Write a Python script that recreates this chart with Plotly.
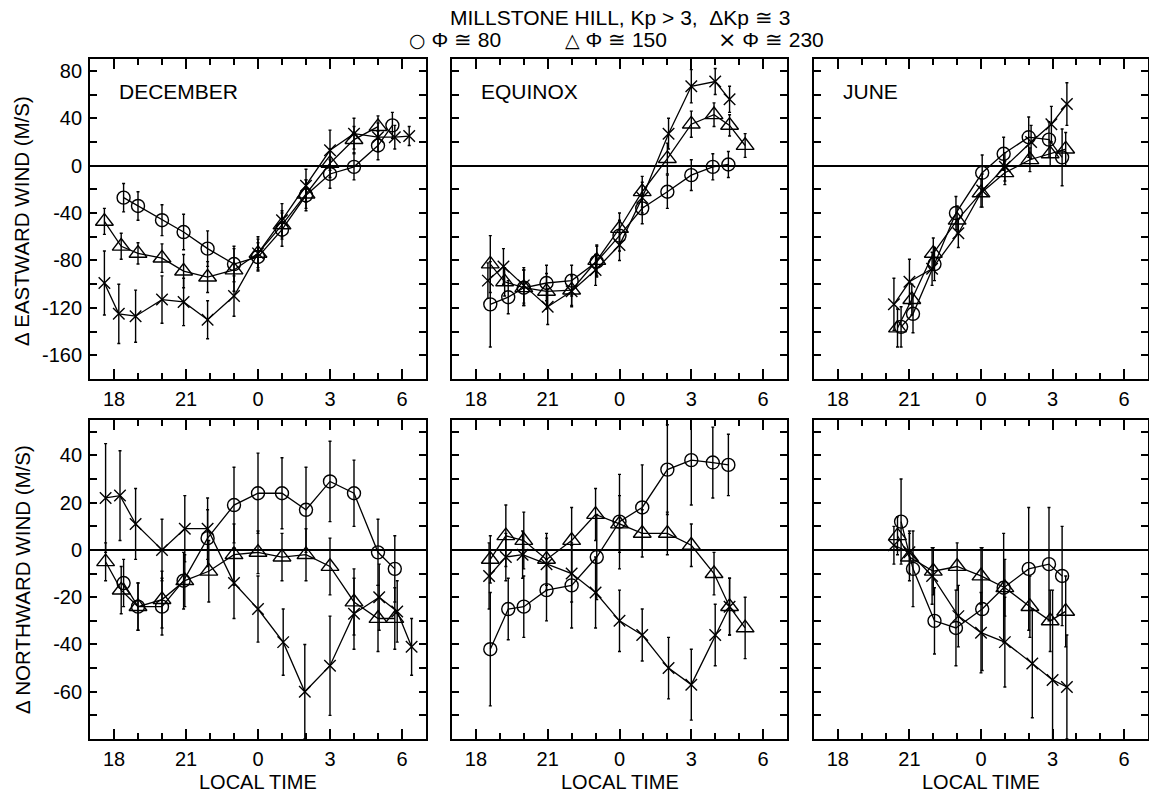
import plotly.graph_objects as go

W, H = 1149, 795

# ---------------- DATA (local time in hours, value in m/s, error in m/s) ----------------
# Top row: Δ eastward wind
dec_e_circ_t = [18.4, 19.0, 20.0, 20.9, 21.9, 23.0, 0.0, 1.0, 2.0, 3.0, 4.0, 5.0, 5.6]
dec_e_circ_v = [-27, -34, -46, -56, -70, -83, -77, -54, -25, -7, -1, 17, 34]
dec_e_circ_e = [12, 12, 13, 15, 15, 15, 12, 14, 13, 12, 11, 12, 11]
dec_e_tri_t = [17.6, 18.3, 19.0, 20.0, 20.9, 21.9, 23.0, 0.0, 1.0, 2.0, 3.0, 4.0, 5.0]
dec_e_tri_v = [-47, -68, -74, -78, -89, -94, -88, -74, -50, -24, 2, 22, 33]
dec_e_tri_e = [11, 11, 9, 12, 14, 13, 18, 12, 12, 12, 12, 11, 9]
dec_e_x_t = [17.6, 18.2, 18.9, 20.0, 20.9, 21.9, 23.0, 0.0, 1.0, 2.0, 3.0, 4.0, 5.0, 5.7, 6.3]
dec_e_x_v = [-99, -125, -127, -113, -115, -130, -110, -74, -46, -17, 13, 27, 24, 24, 25]
dec_e_x_e = [27, 25, 22, 20, 20, 16, 17, 14, 14, 14, 17, 13, 12, 10, 8]

eqx_e_circ_t = [18.6, 19.35, 20.0, 20.95, 22.0, 23.05, 0.0, 0.95, 2.0, 3.0, 3.9, 4.55]
eqx_e_circ_v = [-117, -111, -103, -99, -97, -81, -59, -36, -22, -8, -1, 1]
eqx_e_circ_e = [36, 14, 15, 15, 13, 13, 13, 13, 14, 13, 11, 11]
eqx_e_tri_t = [18.6, 19.2, 20.0, 20.95, 22.0, 23.05, 0.0, 0.95, 2.0, 3.0, 3.95, 4.6, 5.25]
eqx_e_tri_v = [-83, -98, -103, -106, -105, -80, -53, -22, 6, 35, 43, 34, 17]
eqx_e_tri_e = [24, 12, 15, 15, 13, 13, 13, 13, 13, 11, 10, 9, 10]
eqx_e_x_t = [18.5, 19.15, 20.0, 21.0, 22.0, 23.0, 0.0, 0.95, 2.05, 3.0, 4.0, 4.6]
eqx_e_x_v = [-97, -85, -101, -119, -106, -88, -67, -27, 27, 67, 71, 56]
eqx_e_x_e = [15, 15, 15, 15, 13, 13, 13, 13, 13, 14, 11, 11]

jun_e_circ_t = [20.65, 21.15, 22.05, 22.95, 0.05, 0.95, 2.0, 2.85, 3.4]
jun_e_circ_v = [-136, -125, -83, -40, -6, 10, 24, 22, 7]
jun_e_circ_e = [17, 16, 14, 14, 15, 14, 17, 15, 24]
jun_e_tri_t = [20.5, 21.1, 22.0, 23.0, 0.0, 1.0, 2.05, 2.9, 3.55]
jun_e_tri_v = [-137, -113, -74, -46, -23, -6, 5, 10, 14]
jun_e_tri_e = [16, 13, 13, 12, 12, 10, 10, 10, 14]
jun_e_x_t = [20.35, 21.0, 21.95, 23.05, 0.05, 1.0, 2.1, 2.95, 3.6]
jun_e_x_v = [-117, -98, -87, -57, -21, -1, 20, 35, 52]
jun_e_x_e = [22, 19, 14, 12, 14, 12, 14, 15, 18]

# Bottom row: Δ northward wind
dec_n_circ_t = [18.4, 19.0, 20.0, 20.9, 21.9, 23.0, 0.0, 1.0, 2.0, 3.0, 4.0, 5.0, 5.7]
dec_n_circ_v = [-14, -24, -24, -13, 5, 19, 24, 24, 17, 29, 24, -1, -8]
dec_n_circ_e = [10, 10, 12, 12, 12, 16, 17, 15, 18, 17, 14, 14, 14]
dec_n_tri_t = [17.65, 18.3, 19.0, 20.0, 20.95, 21.95, 23.0, 0.0, 1.0, 2.0, 3.0, 4.0, 5.0, 5.7]
dec_n_tri_v = [-5, -17, -24, -21, -13, -9, -2, -1, -3, -2, -7, -22, -29, -29]
dec_n_tri_e = [8, 10, 10, 12, 11, 13, 13, 9, 10, 11, 12, 14, 14, 13]
dec_n_x_t = [17.65, 18.25, 18.9, 20.0, 20.95, 21.9, 23.0, 0.0, 1.05, 1.95, 3.0, 4.0, 5.05, 5.8, 6.4]
dec_n_x_v = [22, 23, 11, 0, 9, 9, -14, -25, -39, -60, -49, -27, -20, -26, -41]
dec_n_x_e = [23, 19, 15, 13, 14, 13, 15, 14, 14, 20, 21, 15, 14, 13, 12]

eqx_n_circ_t = [18.6, 19.35, 20.0, 20.95, 22.0, 23.05, 0.0, 0.95, 2.0, 3.0, 3.9, 4.55]
eqx_n_circ_v = [-42, -25, -24, -17, -15, -3, 12, 18, 34, 38, 37, 36]
eqx_n_circ_e = [24, 13, 13, 13, 18, 18, 20, 18, 19, 19, 15, 13]
eqx_n_tri_t = [18.6, 19.25, 20.0, 20.95, 22.0, 23.0, 0.0, 0.95, 2.0, 3.0, 3.95, 4.6, 5.25]
eqx_n_tri_v = [-4, 6, 4, -4, 4, 15, 11, 7, 7, 2, -10, -24, -33]
eqx_n_tri_e = [10, 13, 12, 11, 14, 11, 12, 10, 9, 9, 9, 12, 13]
eqx_n_x_t = [18.55, 19.25, 19.95, 20.95, 22.0, 23.0, 0.0, 0.95, 2.05, 3.0, 4.0, 4.6]
eqx_n_x_v = [-11, -3, -2, -6, -10, -18, -30, -36, -50, -57, -36, -24]
eqx_n_x_e = [14, 10, 10, 11, 12, 15, 13, 11, 13, 15, 13, 12]

jun_n_circ_t = [20.65, 21.15, 22.05, 22.95, 0.05, 0.95, 2.0, 2.85, 3.4]
jun_n_circ_v = [12, -8, -30, -33, -25, -16, -8, -6, -11]
jun_n_circ_e = [18, 16, 14, 16, 26, 23, 26, 24, 21]
jun_n_tri_t = [20.5, 21.0, 22.0, 23.0, 0.0, 1.0, 2.05, 2.9, 3.55]
jun_n_tri_v = [6, -3, -9, -7, -11, -16, -24, -30, -26]
jun_n_tri_e = [8, 10, 10, 10, 12, 12, 13, 13, 15]
jun_n_x_t = [20.35, 21.0, 21.95, 23.05, 0.0, 1.0, 2.15, 3.0, 3.6]
jun_n_x_v = [2, -1, -11, -28, -35, -39, -48, -55, -58]
jun_n_x_e = [8, 9, 12, 13, 17, 19, 23, 38, 22]

season_labels = ["DECEMBER", "EQUINOX", "JUNE"]
x_tick_vals = [18, 21, 24, 27, 30]
x_tick_text = ["18", "21", "0", "3", "6"]
top_tick_vals = [80, 40, 0, -40, -80, -120, -160]
bot_tick_vals = [40, 20, 0, -20, -40, -60]
title_text = "MILLSTONE HILL, Kp > 3,  ΔKp ≅ 3"
legend_symbols = ["○", "△", "×"]
legend_texts = ["Φ ≅ 80", "Φ ≅ 150", "Φ ≅ 230"]

panels = [
    (1, 1, (dec_e_circ_t, dec_e_circ_v, dec_e_circ_e), (dec_e_tri_t, dec_e_tri_v, dec_e_tri_e), (dec_e_x_t, dec_e_x_v, dec_e_x_e)),
    (1, 2, (eqx_e_circ_t, eqx_e_circ_v, eqx_e_circ_e), (eqx_e_tri_t, eqx_e_tri_v, eqx_e_tri_e), (eqx_e_x_t, eqx_e_x_v, eqx_e_x_e)),
    (1, 3, (jun_e_circ_t, jun_e_circ_v, jun_e_circ_e), (jun_e_tri_t, jun_e_tri_v, jun_e_tri_e), (jun_e_x_t, jun_e_x_v, jun_e_x_e)),
    (2, 1, (dec_n_circ_t, dec_n_circ_v, dec_n_circ_e), (dec_n_tri_t, dec_n_tri_v, dec_n_tri_e), (dec_n_x_t, dec_n_x_v, dec_n_x_e)),
    (2, 2, (eqx_n_circ_t, eqx_n_circ_v, eqx_n_circ_e), (eqx_n_tri_t, eqx_n_tri_v, eqx_n_tri_e), (eqx_n_x_t, eqx_n_x_v, eqx_n_x_e)),
    (2, 3, (jun_n_circ_t, jun_n_circ_v, jun_n_circ_e), (jun_n_tri_t, jun_n_tri_v, jun_n_tri_e), (jun_n_x_t, jun_n_x_v, jun_n_x_e)),
]


def unwrap(ts):
    return [t + 24 if t < 12 else t for t in ts]


FONT = "Liberation Sans, Arial, Helvetica, sans-serif"
col_px = [(90, 426), (452, 787), (814, 1148)]
row_px = [(59, 379), (420, 739)]

fig = go.Figure()

symbols = [("circle-open", 13), ("triangle-up-open", 15.5), ("x-thin-open", 11.5)]

for idx, (r, c, *series) in enumerate(panels):
    n = idx + 1
    xa = "x" if n == 1 else f"x{n}"
    ya = "y" if n == 1 else f"y{n}"
    for (sym, size), (t, v, e) in zip(symbols, series):
        fig.add_trace(go.Scatter(
            x=unwrap(t), y=v, xaxis=xa, yaxis=ya, mode="lines+markers",
            line=dict(color="black", width=1.3),
            marker=dict(symbol=sym, size=size, color="black",
                        line=dict(color="black", width=1.4)),
            error_y=dict(type="data", array=e, visible=True, color="black",
                         thickness=1.4, width=1.5),
            showlegend=False, hoverinfo="skip",
        ))

layout = dict(
    width=W, height=H,
    paper_bgcolor="white", plot_bgcolor="white",
    margin=dict(l=0, r=0, t=0, b=0, autoexpand=False),
    font=dict(family=FONT, size=20, color="black"),
    showlegend=False,
)

annotations = []
for idx in range(6):
    n = idx + 1
    r = idx // 3
    c = idx % 3
    x0, x1 = col_px[c]
    y0, y1 = row_px[r]
    xkey = "xaxis" if n == 1 else f"xaxis{n}"
    ykey = "yaxis" if n == 1 else f"yaxis{n}"
    ya = "y" if n == 1 else f"y{n}"
    xa = "x" if n == 1 else f"x{n}"
    layout[xkey] = dict(
        domain=[x0 / W, x1 / W], anchor=ya, range=[17, 31],
        tickmode="array", tickvals=x_tick_vals, ticktext=x_tick_text,
        ticks="inside", ticklen=10, tickwidth=1.5, tickcolor="black",
        minor=dict(ticks="inside", dtick=1, tick0=0, ticklen=6, tickwidth=1.5,
                   tickcolor="black", showgrid=False),
        showline=True, linecolor="black", linewidth=1.8, mirror="allticks",
        showgrid=False, zeroline=False,
        tickfont=dict(family=FONT, size=20, color="black"),
        ticklabelstandoff=1,
    )
    if r == 0:
        yr = [-180, 90]
        ytv = top_tick_vals
        mdt = 20
    else:
        yr = [-80, 55]
        ytv = bot_tick_vals
        mdt = 10
    layout[ykey] = dict(
        domain=[1 - y1 / H, 1 - y0 / H], anchor=xa, range=yr,
        tickmode="array", tickvals=ytv, ticktext=[str(v) for v in ytv],
        ticks="inside", ticklen=7, tickwidth=1.5, tickcolor="black",
        minor=dict(ticks="inside", dtick=mdt, tick0=0, ticklen=7, tickwidth=1.5,
                   tickcolor="black", showgrid=False),
        showline=True, linecolor="black", linewidth=1.8, mirror="allticks",
        showgrid=False, zeroline=True, zerolinecolor="black", zerolinewidth=1.5,
        showticklabels=(c == 0),
        tickfont=dict(family=FONT, size=20, color="black"),
        ticklabelstandoff=2,
    )
    if r == 0:
        annotations.append(dict(
            text=season_labels[c], x=(x0 + 27) / W, y=1 - 92 / H,
            xref="paper", yref="paper", xanchor="left", yanchor="middle",
            showarrow=False, font=dict(family=FONT, size=21, color="black")))
    else:
        annotations.append(dict(
            text="LOCAL TIME", x=(x0 + x1) / 2 / W, y=1 - 782 / H,
            xref="paper", yref="paper", xanchor="center", yanchor="middle",
            showarrow=False, font=dict(family=FONT, size=20, color="black")))

annotations.append(dict(
    text="Δ EASTWARD WIND (M/S)", x=22 / W, y=1 - 221 / H, textangle=-90,
    xref="paper", yref="paper", xanchor="center", yanchor="middle",
    showarrow=False, font=dict(family=FONT, size=20.5, color="black")))
annotations.append(dict(
    text="Δ NORTHWARD WIND (M/S)", x=22 / W, y=1 - 580 / H, textangle=-90,
    xref="paper", yref="paper", xanchor="center", yanchor="middle",
    showarrow=False, font=dict(family=FONT, size=20.5, color="black")))
annotations.append(dict(
    text=title_text, x=620 / W, y=1 - 17.5 / H,
    xref="paper", yref="paper", xanchor="center", yanchor="middle",
    showarrow=False, font=dict(family=FONT, size=21, color="black")))

legend_x = [407, 563, 716]
sym_styles = ["font-family:DejaVu Sans;font-size:19px",
              "font-family:DejaVu Sans;font-size:19px",
              "font-family:DejaVu Sans;font-size:22px"]
for lx, ls, st, lt in zip(legend_x, legend_symbols, sym_styles, legend_texts):
    annotations.append(dict(
        text=f'<span style="{st}">{ls}</span> {lt}', x=lx / W, y=1 - 40 / H,
        xref="paper", yref="paper", xanchor="left", yanchor="middle",
        showarrow=False, font=dict(family=FONT, size=21, color="black")))

layout["annotations"] = annotations
fig.update_layout(**layout)
fig.write_html(
    "out.html",
    config={"displayModeBar": False},
    post_script="document.body.style.margin='0';document.body.style.padding='0';"
                "document.body.style.overflow='hidden';",
)
